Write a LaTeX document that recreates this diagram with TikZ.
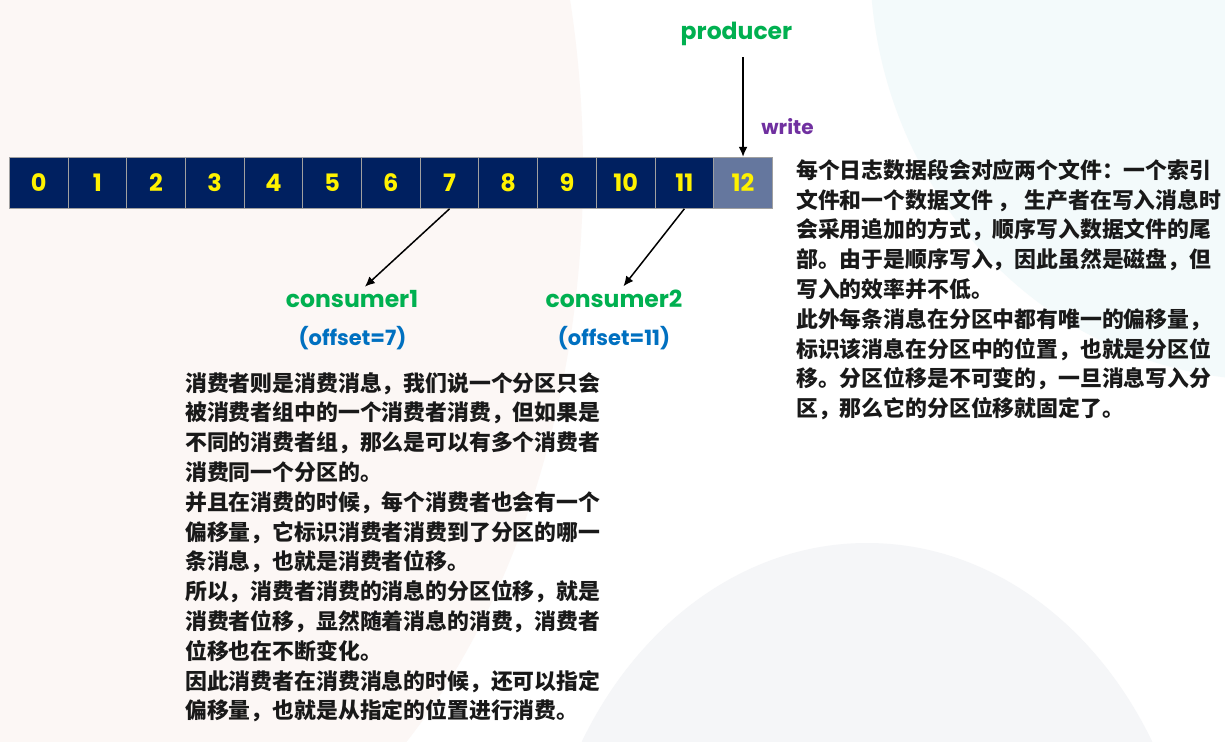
\documentclass[tikz,border=0pt]{standalone}
\usepackage{fontspec}
\usetikzlibrary{positioning, arrows.meta}
\newfontfamily\cjk{Noto Sans CJK SC}
\newfontfamily\comic{Poppins}
\definecolor{navycell}{HTML}{002060}
\definecolor{lastcell}{RGB}{101,119,158}
\definecolor{cellline}{RGB}{160,160,160}
\definecolor{rolegreen}{HTML}{00B050}
\definecolor{writepurple}{HTML}{7030A0}
\definecolor{offsetblue}{HTML}{0070C0}
\definecolor{pinkbg}{RGB}{252,247,245}
\definecolor{bluebg}{RGB}{243,250,251}
\definecolor{graybg}{RGB}{245,246,248}
\tikzset{
  cell/.style={draw=cellline, line width=1pt, fill=navycell, minimum width=58.7pt,
    minimum height=51pt, inner sep=0pt, text=yellow, font=\comic\bfseries\fontsize{24}{24}\selectfont},
  role/.style={text=rolegreen, inner sep=3pt, font=\comic\bfseries\fontsize{23.5}{23.5}\selectfont},
  offset/.style={text=offsetblue, inner sep=0pt, font=\comic\bfseries\fontsize{21}{21}\selectfont},
  note/.style={align=left, inner sep=0pt, text=black!90, font=\cjk\bfseries\fontsize{21.85}{29.8}\selectfont},
  flow/.style={-{Latex[length=10pt,width=9pt]}, line width=1.5pt},
}

\begin{document}
\begin{tikzpicture}[x=1pt, y=-1pt]
\useasboundingbox (0,0) rectangle (1225,741);

% pozadi
\begin{scope}
    \clip (0,0) rectangle (1225,741);
    \fill[white] (0,0) rectangle (1225,741);
    \fill[pinkbg] (83,170) ellipse [x radius=500, y radius=750];
    \fill[bluebg] (1270,-40) ellipse [x radius=400, y radius=420];
    \fill[graybg] (867,943) ellipse [x radius=330, y radius=400];
\end{scope}

% segment logu
\foreach \i in {0,...,11}
    \node[cell] (c\i) at ({9.3+(\i+0.5)*58.7}, 182.8) {\i};
\node[cell, fill=lastcell] (c12) at ({9.3+12.5*58.7}, 182.8) {12};

% producer
\node[role, anchor=base] (prod) at (736.5,40) {producer};
\node[text=writepurple, anchor=base, inner sep=0pt, font=\comic\bfseries\fontsize{20}{20}\selectfont] (wr) at (787.5,135) {write};
\draw[flow, shorten <=8pt] (prod.south -| c12.north) -- (c12.north);

% consumers
\node[role, anchor=base] (cons1) at (352,307) {consumer1};
\node[role, anchor=base] (cons2) at (614,307) {consumer2};
\node[offset, anchor=base] (off1) at (352.5,345) {(offset=7)};
\node[offset, anchor=base] (off2) at (614,345) {(offset=11)};
\draw[flow] (c7.south) -- (cons1);
\draw[flow] (c11.south) -- (cons2);

% texty
\node[note, anchor=north west] (consnote) at (185,372) {%
消费者则是消费消息，我们说一个分区只会\\
被消费者组中的一个消费者消费，但如果是\\
不同的消费者组，那么是可以有多个消费者\\
消费同一个分区的。\\
并且在消费的时候，每个消费者也会有一个\\
偏移量，它标识消费者消费到了分区的哪一\\
条消息，也就是消费者位移。\\
所以，消费者消费的消息的分区位移，就是\\
消费者位移，显然随着消息的消费，消费者\\
位移也在不断变化。\\
因此消费者在消费消息的时候，还可以指定\\
偏移量，也就是从指定的位置进行消费。};
\node[note, anchor=north west] (segnote) at (796,159) {%
每个日志数据段会对应两个文件：一个索引\\
文件和一个数据文件 ， 生产者在写入消息时\\
会采用追加的方式，顺序写入数据文件的尾\\
部。由于是顺序写入，因此虽然是磁盘，但\\
写入的效率并不低。\\
此外每条消息在分区中都有唯一的偏移量，\\
标识该消息在分区中的位置，也就是分区位\\
移。分区位移是不可变的，一旦消息写入分\\
区，那么它的分区位移就固定了。};

\end{tikzpicture}
\end{document}
